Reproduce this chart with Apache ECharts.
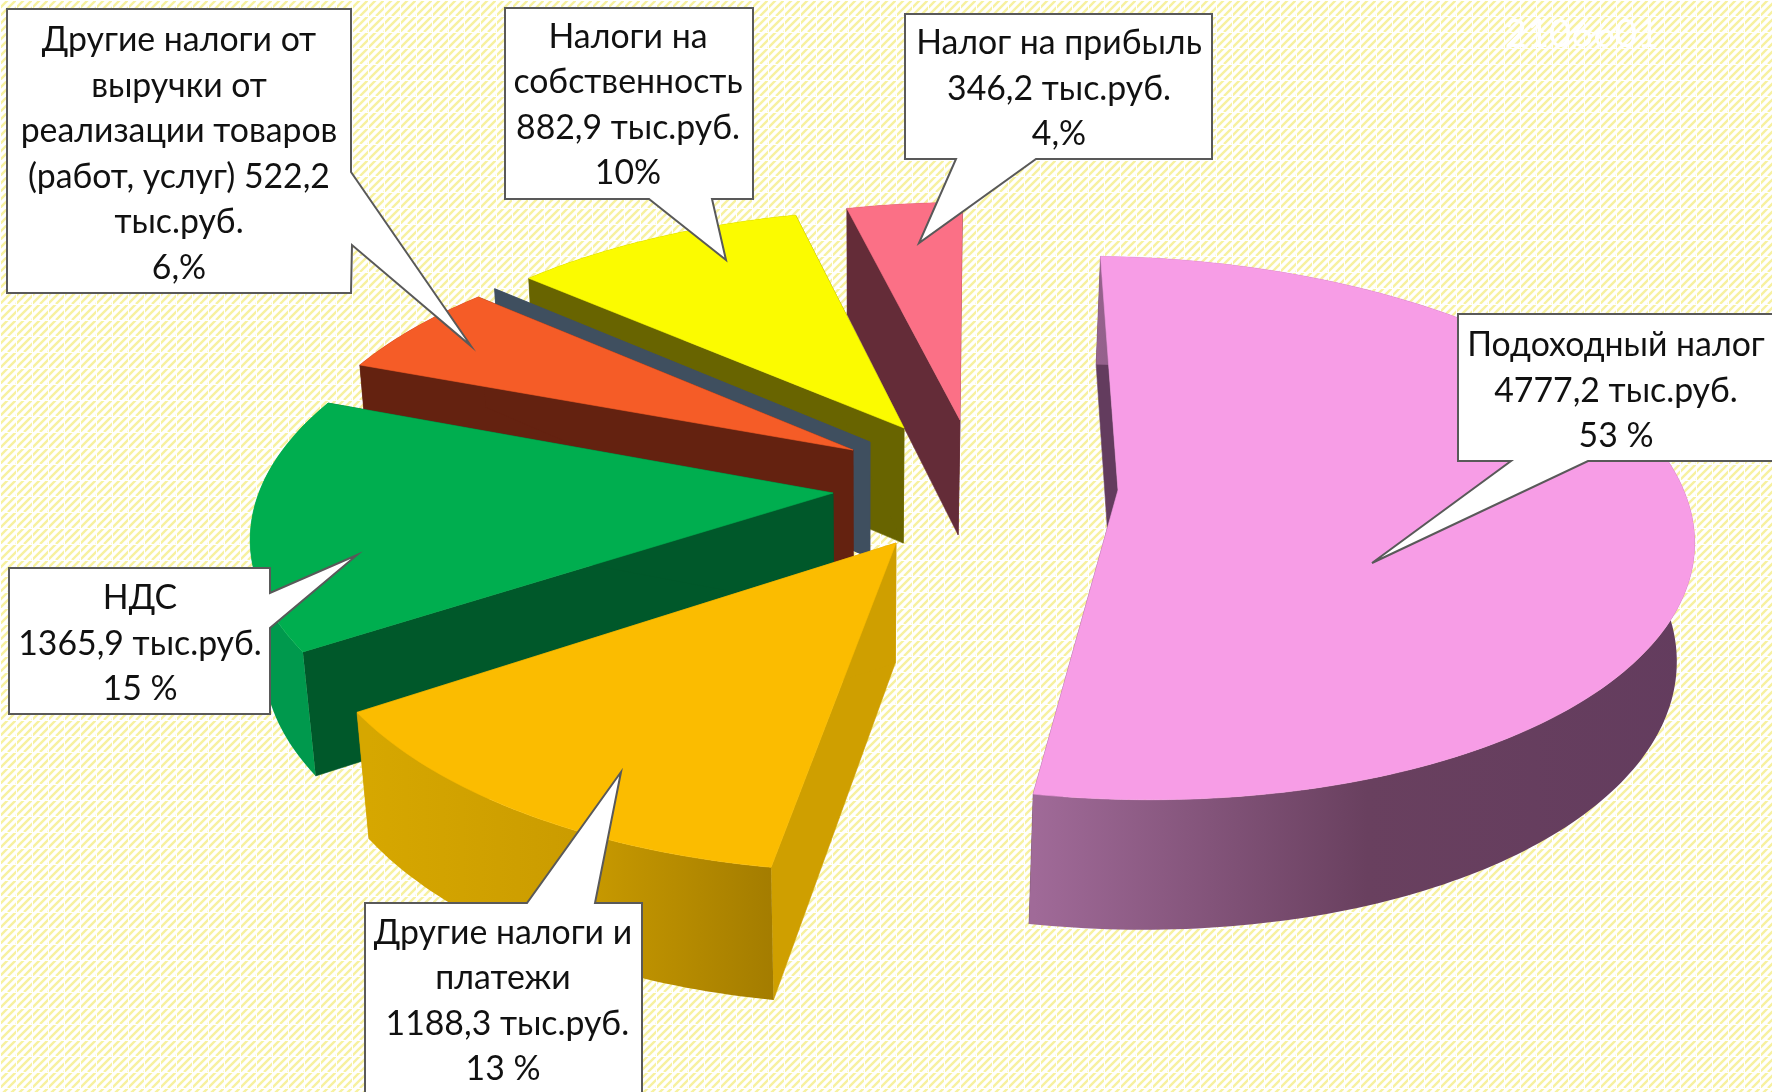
<!DOCTYPE html>
<html>
<head>
<meta charset="utf-8">
<style>
  html, body { margin: 0; padding: 0; background: #fff; }
  #chart { width: 1772px; height: 1092px; }
</style>
<script src="https://cdn.jsdelivr.net/npm/echarts@6/dist/echarts.min.js"></script>
</head>
<body>
<div id="chart"></div>
<script>
// clockwise from the top of the pie
const categories = ["Подоходный налог", "Другие налоги и платежи", "НДС",
  "Другие налоги от выручки от реализации товаров (работ, услуг)", "Прочее",
  "Налоги на собственность", "Налог на прибыль"];
const values = [4777.2, 1188.3, 1365.9, 522.2, 0, 882.9, 346.2];
const labels = [
  "Подоходный налог\n4777,2 тыс.руб.\n53 %",
  "Другие налоги и\nплатежи\n 1188,3 тыс.руб.\n13 %",
  "НДС\n1365,9 тыс.руб.\n15 %",
  "Другие налоги от\nвыручки от\nреализации товаров\n(работ, услуг) 522,2\nтыс.руб.\n6,%",
  "",
  "Налоги на\nсобственность\n882,9 тыс.руб.\n10%",
  "Налог на прибыль\n346,2 тыс.руб.\n4,%"
];

// back to front
const drawOrder = [6, 5, 4, 3, 2, 1, 0];

const START_ANGLE = -2;
const PERSPECTIVE = 0.14;
const VANISH = [865, 6100];
const FONT = 'Lato, "Open Sans", "Noto Sans", sans-serif';

// where each exploded slice sits and how its disc is projected
const sliceGeom = [
  { ax: 1118, ay: 490, a: 571, b: 266, k: 0, m: 15 },
  { ax: 896, ay: 543, a: 585, b: 283, k: 33, m: 11 },
  { ax: 833, ay: 493, a: 570, b: 265, k: 40, m: 10 },
  { ax: 853, ay: 450, a: 555, b: 252, k: 34, m: 9 },
  { ax: 870, ay: 442, a: 550, b: 255, k: 27, m: 7 },
  { ax: 904, ay: 428, a: 550, b: 249, k: 27, m: 7 },
  { ax: 960, ay: 420, a: 552, b: 248, k: 22, m: 5 }
];

const sliceStyle = [
  { top: "#f79de6", cut: "#633c5e", arc: [[0, "#a06a98"], [0.5, "#69405f"], [1, "#633c5e"]], arcFrom: 1034, arcTo: 1700 },
  { top: "#fbbc00", cut: "#cf9f00", arc: [[0, "#d6a700"], [0.5, "#cb9c00"], [1, "#a37c00"]], arcFrom: 369, arcTo: 776 },
  { top: "#00ae4f", cut: "#00582a", arc: [[0, "#00994d"], [1, "#00994d"]], arcFrom: 250, arcTo: 320 },
  { top: "#f55c27", cut: "#642210", arc: [[0, "#642210"], [1, "#642210"]], arcFrom: 350, arcTo: 480 },
  { top: "#3f4f5f", cut: "#3f4f5f", arc: [[0, "#3f4f5f"], [1, "#3f4f5f"]], arcFrom: 490, arcTo: 500 },
  { top: "#fbfb00", cut: "#686400", arc: [[0, "#686400"], [1, "#686400"]], arcFrom: 520, arcTo: 800 },
  { top: "#fb7086", cut: "#642c38", arc: [[0, "#642c38"], [1, "#642c38"]], arcFrom: 840, arcTo: 970 }
];

// callout boxes, outline includes the pointer
const callouts = [
  { label: 0, x: 1616, y: 391, outline: [[1458, 314], [1790, 314], [1790, 461], [1588, 461], [1372, 563], [1511, 461], [1458, 461]] },
  { label: 1, x: 503, y: 1001, outline: [[365, 903], [527, 903], [621, 772], [595, 903], [642, 903], [642, 1110], [365, 1110]] },
  { label: 2, x: 140, y: 644, outline: [[9, 568], [270, 568], [270, 593], [357, 555], [270, 628], [270, 714], [9, 714]] },
  { label: 3, x: 179, y: 154, outline: [[7, 9], [351, 9], [351, 172], [471, 346], [352, 245], [351, 293], [7, 293]] },
  { label: 5, x: 628, y: 105, outline: [[505, 8], [753, 8], [753, 199], [712, 199], [726, 260], [649, 199], [505, 199]] },
  { label: 6, x: 1059, y: 89, outline: [[905, 14], [1212, 14], [1212, 159], [1036, 159], [919, 243], [956, 159], [905, 159]] }
];

const total = values.reduce((s, v) => s + v, 0);
const startAngles = [];
values.reduce((acc, v, i) => {
  startAngles[i] = acc;
  return acc + (v / total) * 360;
}, START_ANGLE);

function rimPoint(g, deg) {
  const t = (deg * Math.PI) / 180;
  const s = Math.sin(t), c = Math.cos(t);
  const w = 1 + PERSPECTIVE * c;
  return [g.ax + (g.a * s + g.k * c) / w, g.ay + (-g.b * c + g.m * s) / w];
}

// same point on the underside of the slice
function dropPoint(p) {
  const depth = 98 + 0.04 * p[1];
  return [p[0] + ((VANISH[0] - p[0]) * depth) / (VANISH[1] - p[1]), p[1] + depth];
}

function poly(points, fill, stroke) {
  return {
    type: "polygon",
    shape: { points: points },
    style: { fill: fill, stroke: stroke || fill, lineWidth: 0.6 }
  };
}

function renderSlice(params, api) {
  const i = api.value(0);
  const g = sliceGeom[i];
  const st = sliceStyle[i];
  const from = startAngles[i];
  const to = from + (values[i] / total) * 360;

  const rim = [];
  const steps = Math.max(1, Math.ceil(to - from));
  for (let n = 0; n <= steps; n++) {
    rim.push(rimPoint(g, from + ((to - from) * n) / steps));
  }
  const apex = [g.ax, g.ay];
  const apexLow = dropPoint(apex);
  const rimLow = rim.map(dropPoint);
  const last = rim.length - 1;

  const arcFill = new echarts.graphic.LinearGradient(st.arcFrom, 0, st.arcTo, 0,
    st.arc.map((c) => ({ offset: c[0], color: c[1] })), true);

  const children = [
    poly([apex, rim[0], rimLow[0], apexLow], st.cut),
    poly([apex, rim[last], rimLow[last], apexLow], st.cut),
    poly(rim.concat(rimLow.slice().reverse()), arcFill, "none")
  ];
  if (values[i] > 0) {
    children.push(poly([apex].concat(rim), st.top));
  }
  return { type: "group", children: children };
}

function hatchTile() {
  const size = 16;
  const c = document.createElement("canvas");
  c.width = size;
  c.height = size;
  const ctx = c.getContext("2d");
  ctx.fillStyle = "#ffffff";
  ctx.fillRect(0, 0, size, size);
  ctx.strokeStyle = "#f7f1a0";
  ctx.lineWidth = 2.4;
  for (let d = -size; d <= size * 2; d += 8) {
    ctx.beginPath();
    ctx.moveTo(d, size);
    ctx.lineTo(d + size, 0);
    ctx.stroke();
  }
  ctx.fillStyle = "#ffffff";
  ctx.fillRect(0, 0, size, 1);
  ctx.fillRect(0, 0, 1, size);
  return c;
}

const calloutGraphics = callouts.map((box) => ({
  type: "group",
  silent: true,
  children: [
    {
      type: "polygon",
      z: 100,
      shape: { points: box.outline },
      style: { fill: "#ffffff", stroke: "#595959", lineWidth: 2 }
    },
    {
      type: "text",
      z: 101,
      x: box.x,
      y: box.y,
      style: {
        text: labels[box.label],
        font: '33.8px ' + FONT,
        fill: "#111111",
        align: "center",
        verticalAlign: "middle",
        lineHeight: 45.5
      }
    }
  ]
}));

const chart = echarts.init(document.getElementById("chart"));
chart.setOption({
  animation: false,
  backgroundColor: { image: hatchTile(), repeat: "repeat" },
  series: [
    {
      type: "custom",
      name: "Налоги",
      coordinateSystem: "none",
      silent: true,
      z: 2,
      renderItem: renderSlice,
      data: drawOrder.map((i) => ({ name: categories[i], value: [i, values[i]] }))
    }
  ],
  graphic: {
    elements: calloutGraphics.concat([
      {
        type: "text",
        z: 101,
        x: 1582,
        y: 35,
        style: {
          text: "2106601",
          font: '38px ' + FONT,
          fill: "#ffffff",
          align: "center",
          verticalAlign: "middle"
        }
      }
    ])
  }
});
</script>
</body>
</html>
